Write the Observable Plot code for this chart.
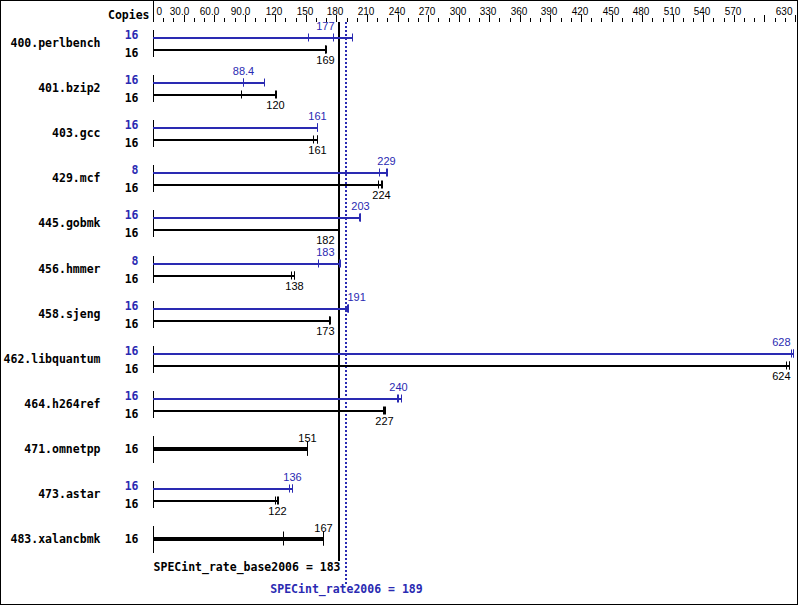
<!DOCTYPE html>
<html><head><meta charset="utf-8">
<script src="https://cdn.jsdelivr.net/npm/d3@7"></script>
<script src="https://cdn.jsdelivr.net/npm/@observablehq/plot@0.6"></script>
<style>html,body{margin:0;padding:0;background:#fff}</style>
</head><body><div id="chart"></div>
<script>
const benchmarks = ["400.perlbench","401.bzip2","403.gcc","429.mcf","445.gobmk","456.hmmer","458.sjeng","462.libquantum","464.h264ref","471.omnetpp","473.astar","483.xalancbmk"];
const baseCopies = [16,16,16,16,16,16,16,16,16,16,16,16];
const peakCopies = [16,16,16,8,16,8,16,16,16,null,16,null];
const baseScores = [169,120,161,224,182,138,173,624,227,151,122,167];
const peakScores = [177,88.4,161,229,203,183,191,628,240,null,136,null];
const baseRuns = [
  [168.4,169,169.4],[86.6,120,120.3],[157.4,161,161.3],[220.5,224,224.3],
  [181.6,182,182.3],[135.2,138,138.2],[172.7,173,173.3],[621,624,624.3],
  [225.5,227,227.3],[150.7,151,151.2],[119.5,122,122.2],[127.5,167,167.3]
];
const peakRuns = [
  [152.5,177,195],[88.1,88.4,108.5],[160.6,161,161.4],[222,229,229.3],
  [202.6,203,203.3],[161.5,183,183.2],[190.6,191,191.3],[626.5,628,628.3],
  [239.5,240,243.5],null,[133,136,136.3],null
];
const overallBase = 183;
const overallPeak = 189;
const baseTitle = "SPECint_rate_base2006 = 183";
const peakTitle = "SPECint_rate2006 = 189";
const axisTicks = [0,30,60,90,120,150,180,210,240,270,300,330,360,390,420,450,480,510,540,570,630];
const axisTickLabels = ["0","30.0","60.0","90.0","120","150","180","210","240","270","300","330","360","390","420","450","480","510","540","570","630"];
const majorTicks = d3.range(0, 631, 30);
const minorTicks = d3.range(0, 631, 10);

const BLUE = "#2a2ab2";
const W = 799, H = 606;
const MONO = "DejaVu Sans Mono";
const SANS = "Liberation Sans";

const rows = benchmarks.map((name, i) => ({name, i}));
const bars = [];
benchmarks.forEach((name, i) => {
  const single = peakCopies[i] == null;
  if (!single) bars.push({i, kind: "peak", copies: peakCopies[i], runs: peakRuns[i], score: peakScores[i], max: d3.max(peakRuns[i])});
  bars.push({i, kind: single ? "single" : "base", copies: baseCopies[i], runs: baseRuns[i], score: baseScores[i], max: d3.max(baseRuns[i])});
});
const runPts = bars.flatMap(b => b.runs.map(v => ({...b, v})));

function place(s) {
  if (s > 615) return "right";
  if (s > 172 && s <= overallPeak) return "end";
  if (s > overallPeak && s < 200) return "start";
  return "middle";
}

const spec = {
  peak:   {dy: -5.5, color: BLUE,   width: 2, half: 4, labelDy: -17, copiesDy: -8},
  base:   {dy: 6.5,  color: "black", width: 2, half: 4, labelDy: 17,  copiesDy: 10},
  single: {dy: -0.5, color: "black", width: 4, half: 7, labelDy: -11, copiesDy: 0}
};

function kindMarks(kind) {
  const s = spec[kind];
  const B = bars.filter(b => b.kind === kind);
  const P = runPts.filter(p => p.kind === kind);
  const textOpts = {y: "i", text: d => String(d.score), fill: s.color, fontFamily: SANS, fontSize: 11, dy: s.labelDy};
  return [
    Plot.ruleY(B, {y: "i", x1: 0, x2: "max", dy: s.dy, stroke: s.color, strokeWidth: s.width}),
    Plot.ruleX(P, {x: "v", y1: "i", y2: "i", dy: s.dy, insetTop: -s.half, insetBottom: -s.half, stroke: s.color, strokeWidth: 1}),
    Plot.text(B.filter(b => place(b.score) === "middle"), {...textOpts, x: "score", textAnchor: "middle"}),
    Plot.text(B.filter(b => place(b.score) === "end"), {...textOpts, x: () => overallBase, textAnchor: "end", dx: -5}),
    Plot.text(B.filter(b => place(b.score) === "start"), {...textOpts, x: () => overallPeak, textAnchor: "start", dx: 1}),
    Plot.text(B.filter(b => place(b.score) === "right"), {...textOpts, x: () => 630, textAnchor: "end", dx: -5}),
    Plot.text(B, {y: "i", text: d => String(d.copies), frameAnchor: "left", dx: 138, textAnchor: "end", dy: s.copiesDy, fill: s.color, fontFamily: MONO, fontWeight: "bold", fontSize: 11.5})
  ];
}

const tickLab = axisTicks.map((v, k) => ({v, label: axisTickLabels[k]}));
const labOpts = {x: "v", text: "label", frameAnchor: "top", dy: 7, fontFamily: SANS, fontSize: 10, fill: "black"};

const chart = Plot.plot({
  width: W, height: H,
  marginTop: 0, marginRight: 0, marginBottom: 0, marginLeft: 0,
  x: {domain: [0, 630], range: [153, 795], round: true, axis: null},
  y: {domain: [-0.5, 11.5], range: [20.45, 561.65], round: true, axis: null},
  style: {background: "white", fontFamily: MONO},
  marks: [
    Plot.frame({stroke: "black", insetRight: 2, insetBottom: 2}),
    // top axis
    Plot.ruleX(minorTicks, {x: d => d, insetTop: 18, insetBottom: H - 22, stroke: "black"}),
    Plot.ruleX(majorTicks, {x: d => d, insetTop: 15, insetBottom: H - 22, stroke: "black"}),
    Plot.ruleX([0], {x: d => d, insetTop: 0, insetBottom: H - 22, stroke: "black"}),
    Plot.text(tickLab.filter(d => d.v === 0), {...labOpts, textAnchor: "start", dx: 3}),
    Plot.text(tickLab.filter(d => d.label.includes(".")), {...labOpts, textAnchor: "middle", dx: -5}),
    Plot.text(tickLab.filter(d => d.v >= 100 && d.v < 600), {...labOpts, textAnchor: "middle", dx: -1.5}),
    Plot.text(tickLab.filter(d => d.v === 630), {...labOpts, textAnchor: "end", dx: -3}),
    Plot.text(["Copies"], {text: d => d, frameAnchor: "top-left", dx: 149, dy: 10, textAnchor: "end", fontFamily: MONO, fontWeight: "bold", fontSize: 11.5}),
    // start lines
    Plot.ruleX(rows, {x: () => 0, y1: "i", y2: "i", insetTop: -13, insetBottom: -14, stroke: "black"}),
    // benchmark names
    Plot.text(rows, {y: "i", text: "name", frameAnchor: "left", dx: 100, textAnchor: "end", fontFamily: MONO, fontWeight: "bold", fontSize: 11.5, fill: "black"}),
    // overall lines
    Plot.ruleX([overallBase], {x: d => d, dx: -0.5, insetTop: 22, insetBottom: H - 561, stroke: "black", strokeWidth: 2}),
    Plot.ruleX([overallPeak], {x: d => d, dx: -0.5, insetTop: 22, insetBottom: H - 584, stroke: BLUE, strokeWidth: 2, strokeDasharray: "2,2"}),
    ...kindMarks("peak"),
    ...kindMarks("base"),
    ...kindMarks("single"),
    Plot.text([baseTitle], {x: () => overallBase, text: d => d, frameAnchor: "bottom", dy: -36, dx: 1, textAnchor: "end", fontFamily: MONO, fontWeight: "bold", fontSize: 11.5, fill: "black"}),
    Plot.text([peakTitle], {x: () => overallPeak, text: d => d, frameAnchor: "bottom", dy: -14, textAnchor: "middle", fontFamily: MONO, fontWeight: "bold", fontSize: 11.5, fill: BLUE})
  ]
});
document.getElementById("chart").appendChild(chart);
</script>
</body></html>
